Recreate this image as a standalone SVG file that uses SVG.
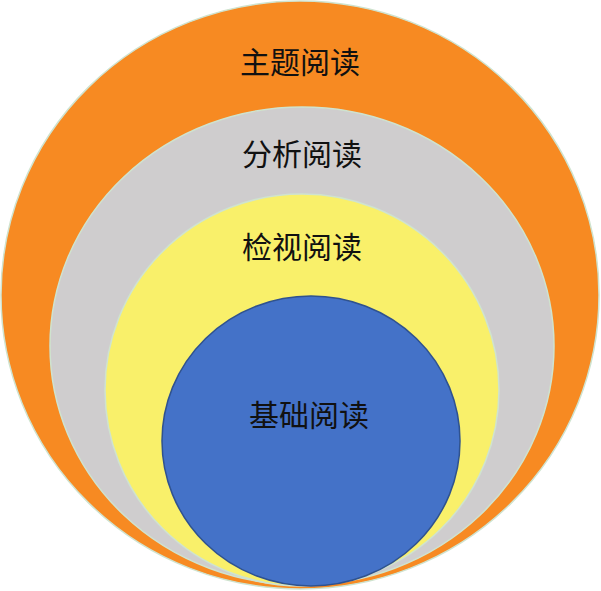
<svg xmlns="http://www.w3.org/2000/svg" width="601" height="591" viewBox="0 0 601 591">
<style>
.l{font-family:"Noto Sans CJK SC",sans-serif;font-size:30px;fill:#111;text-anchor:middle;dominant-baseline:central}
.c{stroke:#cfe3cf;stroke-width:1.5}
</style>
<g id="orange"><ellipse class="c" cx="300" cy="295" rx="299" ry="294" fill="#f78a22"/><text class="l" x="300" y="60">主题阅读</text></g>
<g id="gray"><ellipse class="c" cx="302" cy="346" rx="252" ry="239" fill="#cfcdce"/><text class="l" x="302" y="152">分析阅读</text></g>
<g id="yellow"><ellipse class="c" cx="302" cy="390" rx="197" ry="196" fill="#f9f06a"/><text class="l" x="302" y="245">检视阅读</text></g>
<g id="blue"><ellipse cx="311" cy="441" rx="149" ry="145" fill="#4472c8" stroke="#2f528f" stroke-width="1.5"/><text class="l" x="309" y="413">基础阅读</text></g>
</svg>
